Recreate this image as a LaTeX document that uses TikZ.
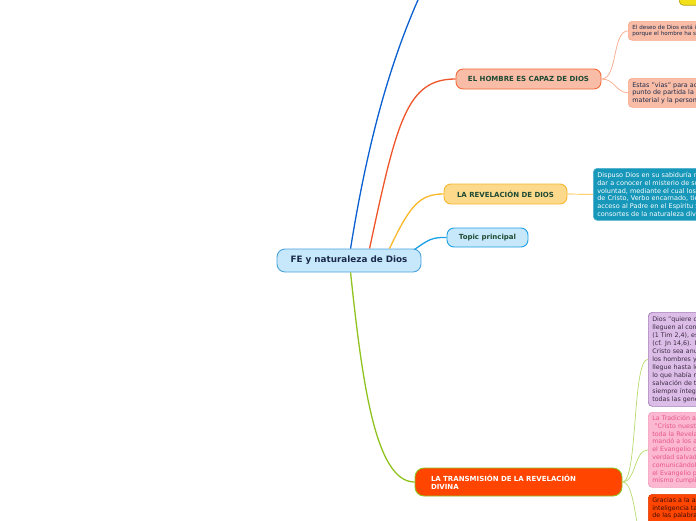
\documentclass[tikz,border=0pt]{standalone}
\usepackage{fontspec}
\setmainfont{DejaVu Sans}
\usetikzlibrary{calc}
\definecolor{cfill}{HTML}{C6E8FA}
\definecolor{cborder}{HTML}{4BA3DD}
\definecolor{ctext}{HTML}{1B2A4A}
\definecolor{htext}{HTML}{1F4A33}
\definecolor{bluedark}{HTML}{0A5FD1}
\definecolor{bluelight}{HTML}{1EA0E6}
\definecolor{redor}{HTML}{F0552A}
\definecolor{salfill}{HTML}{F9BCA6}
\definecolor{salborder}{HTML}{F26B3A}
\definecolor{salthin}{HTML}{F9A88A}
\definecolor{yelline}{HTML}{FBB829}
\definecolor{yelfill}{HTML}{FDD98C}
\definecolor{yelborder}{HTML}{F6B830}
\definecolor{grline}{HTML}{8FC31F}
\definecolor{grthin}{HTML}{B8DB70}
\definecolor{tealfill}{HTML}{1797B9}
\definecolor{tealborder}{HTML}{4FB3CF}
\definecolor{purfill}{HTML}{DCBDE8}
\definecolor{purborder}{HTML}{A57CB8}
\definecolor{purtext}{HTML}{3B2B40}
\definecolor{pinkfill}{HTML}{FBB8D0}
\definecolor{pinkborder}{HTML}{F39AC0}
\definecolor{pinktext}{HTML}{E8558A}
\definecolor{orfill}{HTML}{FF4500}
\definecolor{orborder}{HTML}{E03C00}
\definecolor{ortext}{HTML}{3B0D00}
\definecolor{topfill}{HTML}{F2E01A}
\definecolor{topborder}{HTML}{B5A40C}
\definecolor{toptext}{HTML}{E0201A}
\tikzset{
  headbox/.style={draw, line width=0.9pt, rounded corners=7pt, inner sep=2pt,
    font=\fontsize{7}{8.4}\selectfont\bfseries},
  rbox/.style={draw, line width=0.7pt, rounded corners=4pt, anchor=north west,
    inner xsep=4pt, inner ysep=3pt, text width=260pt, align=left},
  mainline/.style={line width=1.3pt},
  thinline/.style={line width=0.7pt}
}
\begin{document}
\begin{tikzpicture}[x=1pt,y=-1pt]
\useasboundingbox (0,0) rectangle (696,520);
\clip (0,0) rectangle (696,520);
\fill[white] (0,0) rectangle (696,520);

% main nodes
\node[headbox, fill=cfill, draw=cborder, text=ctext, rounded corners=8pt,
  minimum width=144pt, minimum height=23pt,
  font=\fontsize{8.8}{10}\selectfont\bfseries] (c) at (349,260.5) {FE y naturaleza de Dios};
\node[headbox, fill=salfill, draw=salborder, text=htext,
  minimum width=145pt, minimum height=20pt] (h) at (528.5,79) {EL HOMBRE ES CAPAZ DE DIOS};
\node[headbox, fill=yelfill, draw=yelborder, text=htext,
  minimum width=123pt, minimum height=20pt] (r) at (505.5,194) {LA REVELACIÓN DE DIOS};
\node[headbox, fill=cfill, draw=bluelight, text=htext,
  minimum width=81pt, minimum height=19pt] (tp) at (487.5,237.5) {Topic principal};
\node[headbox, fill=orfill, draw=grline, text=white, rounded corners=9pt,
  minimum width=207pt, minimum height=28pt, text width=175pt, align=left,
  inner xsep=16pt] (tr) at (518.5,482) {LA TRANSMISIÓN DE LA REVELACIÓN\\DIVINA};

% right boxes
\node[rbox, fill=topfill, draw=topborder, text=toptext, anchor=south west,
  minimum height=20pt, font=\fontsize{6.5}{7.5}\selectfont\bfseries] (yt) at (679,5.5) {un acto de fe};
\node[rbox, fill=salfill, draw=salthin, text=ctext, minimum height=19pt, inner ysep=2.5pt,
  font=\fontsize{5.6}{6.9}\selectfont] (b7) at (628,21)
  {El deseo de Dios está inscrito en el corazón del hombre\\porque el hombre ha sido creado por Dios y para Dios};
\node[rbox, fill=salfill, draw=salthin, text=ctext, minimum height=29pt,
  font=\fontsize{6.4}{7.6}\selectfont] (b8) at (628,78)
  {Estas "vías" para acercarse a Dios tienen como\\punto de partida la creación: el mundo\\material y la persona humana.};
\node[rbox, fill=tealfill, draw=tealborder, text=white, minimum height=52pt,
  font=\fontsize{6.5}{7.8}\selectfont] (tb) at (593,168)
  {Dispuso Dios en su sabiduría revelarse a Sí mismo y\\dar a conocer el misterio de su\\voluntad, mediante el cual los hombres, por medio\\de Cristo, Verbo encarnado, tienen\\acceso al Padre en el Espíritu Santo y se hacen\\consortes de la naturaleza divina.};
\node[rbox, fill=purfill, draw=purborder, text=purtext, minimum height=94pt,
  font=\fontsize{6.3}{8}\selectfont] (pb) at (648,312)
  {Dios "quiere que todos los hombres se salven y\\lleguen al conocimiento de la verdad"\\(1 Tim 2,4), es decir, de Cristo Jesús\\(cf. Jn 14,6). Es preciso, pues, que\\Cristo sea anunciado a todos los pueblos y a todos\\los hombres y que así la Revelación\\llegue hasta los confines del mundo.\\lo que había revelado para la\\salvación de todos los pueblos\\siempre íntegro y fuera transmitido a\\todas las generaciones.};
\node[rbox, fill=pinkfill, draw=pinkborder, text=pinktext, minimum height=75pt,
  font=\fontsize{6.3}{7.8}\selectfont] (kb) at (648,412)
  {La Tradición apostólica\\\ "Cristo nuestro Señor, en quien se consuma\\toda la Revelación de Dios sumo,\\mandó a los apóstoles que predicaran a todos\\el Evangelio como fuente de toda\\verdad salvadora y de toda norma\\comunicándoles los dones divinos.\\el Evangelio prometido antes por\\mismo cumplió y promulgó con su boca.};
\node[draw=orborder, fill=orfill, line width=0.7pt, rounded corners=4pt, anchor=north west,
  minimum width=268pt, minimum height=102pt, inner sep=0pt] (ob) at (648,494) {};
\node[rbox, draw=none, text=ortext, font=\fontsize{6.3}{7.8}\selectfont] (obt) at (ob.north west)
  {Gracias a la asistencia del Espíritu Santo, la\\inteligencia tanto de las realidades\\de las palabras transmitidas};

% free ends
\coordinate (topend) at (432,-30);

% main connectors
\draw[mainline, bluedark] ($(c.north west)+(74,0)$) .. controls (368,140) and (392,50) .. (topend);
\draw[mainline, redor] ($(c.north west)+(93,0)$) .. controls (397,120) and (407,79) .. (h.west);
\draw[mainline, yelline] ($(c.north west)+(113,0)$) .. controls (410,205) and (420,194) .. (r.west);
\draw[mainline, bluelight] ($(c.north east)+(-7,1)$) .. controls (428,240) and (432,237) .. (tp.west);
\draw[mainline, grline] ($(c.south west)+(74,0)$) .. controls (362,380) and (375,482) .. (tr.west);

% secondary connectors
\draw[thinline, salthin] (h.east) .. controls (618,79) and (612,31) .. (b7.west);
\draw[thinline, salthin] (h.east) .. controls (615,79) and (615,92) .. (b8.west);
\draw[thinline, yelline] (r.east) -- (tb.west);
\draw[thinline, grthin] (tr.east) .. controls (638,482) and (632,359) .. (pb.west);
\draw[thinline, grthin] (tr.east) .. controls (636,482) and (634,450) .. (kb.west);
\draw[thinline, grthin] (tr.east) .. controls (637,482) and (634,545) .. (ob.west);
\end{tikzpicture}
\end{document}
